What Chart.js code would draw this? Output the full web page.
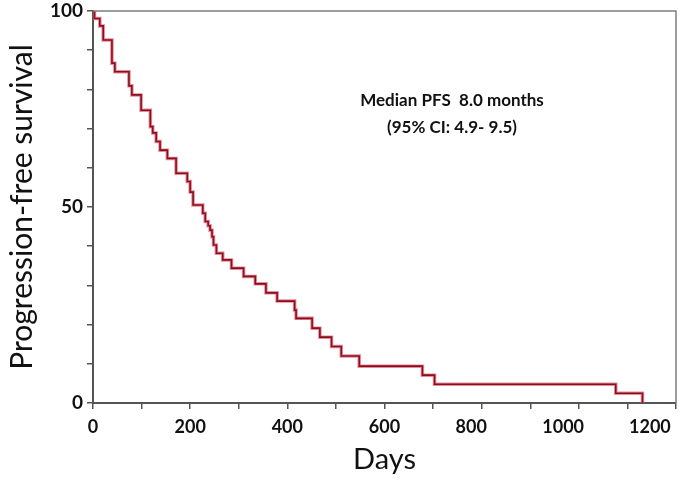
<!DOCTYPE html>
<html>
<head>
<meta charset="utf-8">
<script src="https://cdn.jsdelivr.net/npm/chart.js@4.4.1/dist/chart.umd.min.js"></script>
<style>
  html, body { margin: 0; padding: 0; background: #fff; }
  #wrap { width: 685px; height: 481px; }
</style>
</head>
<body>
<div id="wrap"><canvas id="kmChart" width="685" height="481"></canvas></div>
<script>
// Kaplan-Meier steps: day of each drop and survival (%) after it
const days = [0, 3, 14, 21, 39, 45, 74, 80, 99, 118, 123, 130, 138, 153, 171, 194, 200, 206, 226, 231, 237, 241, 245, 248, 254, 267, 285, 310, 334, 356, 379, 415, 418, 451, 467, 491, 511, 548, 678, 703, 1076, 1131];
const survival = [100, 98.1, 96.2, 92.6, 86.7, 84.5, 80.9, 78.6, 74.7, 70.5, 68.9, 66.7, 64.5, 62.4, 58.6, 56.5, 53.8, 50.5, 48.4, 46.3, 45.2, 44.1, 42.4, 40.3, 38.2, 36.5, 34.4, 32.3, 30.4, 28.1, 26.0, 23.7, 21.6, 19.1, 16.8, 14.4, 12.0, 9.4, 7.1, 4.8, 2.5, 0];
const xLabels = [0, 200, 400, 600, 800, 1000, 1200];
const yLabels = [0, 50, 100];
const noteLines = ["Median PFS  8.0 months", "(95% CI: 4.9- 9.5)"];

const points = days.map((d, i) => ({ x: d, y: survival[i] }));
const FONT = "Lato, 'Open Sans', sans-serif";
// the original's right-hand day labels sit a bit left of their ticks
const labelPad = { 800: 2, 1000: 3, 1200: 5 };

const frameAndNote = {
  id: "frameAndNote",
  afterDraw(chart) {
    const { ctx, chartArea: a } = chart;
    ctx.save();
    ctx.strokeStyle = "#7f7f7f";
    ctx.lineWidth = 1.5;
    ctx.beginPath();
    ctx.moveTo(a.left, a.top); ctx.lineTo(a.right, a.top); ctx.lineTo(a.right, a.bottom);
    ctx.stroke();
    ctx.fillStyle = "#111";
    ctx.font = "bold 17px " + FONT;
    ctx.textAlign = "center";
    ctx.textBaseline = "middle";
    ctx.fillText(noteLines[0], 452, 101);
    ctx.fillText(noteLines[1], 452, 128);
    ctx.restore();
  }
};

new Chart(document.getElementById("kmChart"), {
  type: "line",
  data: {
    datasets: [
      { data: points, stepped: "before", borderColor: "#8b0f1e", borderWidth: 1.6, pointRadius: 0, fill: false, order: 0 },
      { data: points, stepped: "before", borderColor: "rgba(222,100,118,0.75)", borderWidth: 3.5, pointRadius: 0, fill: false, order: 1 }
    ]
  },
  options: {
    responsive: false,
    animation: false,
    layout: { padding: { left: 0, top: 11, right: 9, bottom: 0 } },
    plugins: { legend: { display: false }, tooltip: { enabled: false } },
    scales: {
      x: {
        type: "linear", min: 0, max: 1200,
        afterFit: s => { s.height = 78; s.paddingLeft = 0; s.paddingRight = 0; },
        border: { display: true, color: "#555", width: 2 },
        grid: { drawOnChartArea: false, drawTicks: true, tickLength: 6, color: "#555", lineWidth: 1.5 },
        ticks: {
          stepSize: 100, autoSkip: false, maxRotation: 0, padding: 7, color: "#111",
          font: { family: FONT, size: 18, weight: "bold" },
          callback: v => xLabels.includes(v) ? String(v) + "\u2007".repeat(labelPad[v] || 0) : ""
        },
        title: { display: true, text: "Days", color: "#111", font: { family: FONT, size: 29 }, padding: { top: 2 } }
      },
      y: {
        min: 0, max: 100,
        afterFit: s => { s.width = 93; s.paddingTop = 0; s.paddingBottom = 0; },
        border: { display: true, color: "#555", width: 2 },
        grid: { drawOnChartArea: false, drawTicks: true, tickLength: 6, color: "#555", lineWidth: 1.5 },
        ticks: {
          stepSize: 10, autoSkip: false, padding: 4, color: "#111",
          font: { family: FONT, size: 19, weight: "bold" },
          callback: v => yLabels.includes(v) ? String(v) : ""
        },
        title: { display: true, text: "Progression-free survival", color: "#111", font: { family: FONT, size: 30 }, padding: { bottom: 4 } }
      }
    }
  },
  plugins: [frameAndNote]
});
</script>
</body>
</html>
